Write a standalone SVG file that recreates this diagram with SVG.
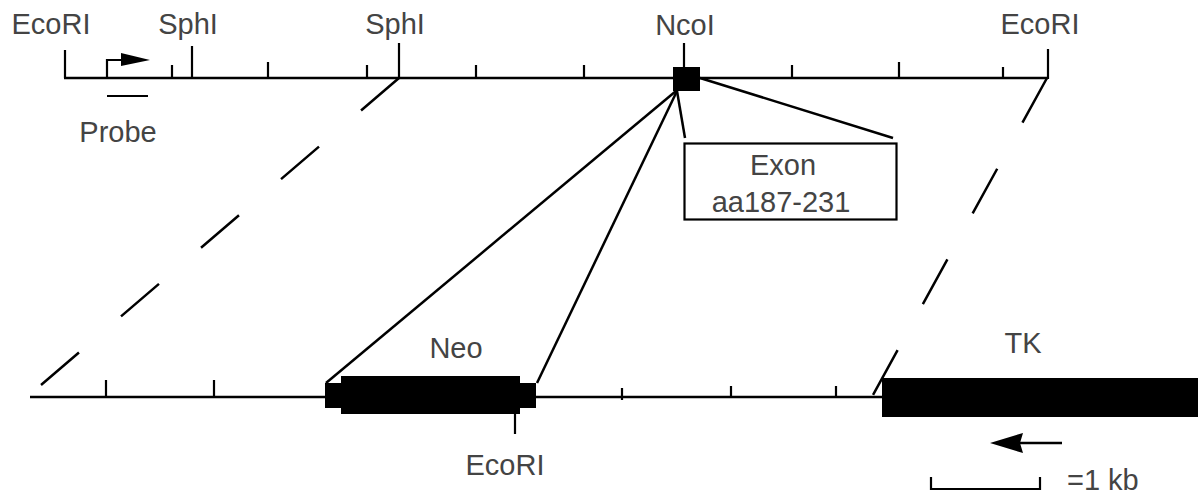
<svg xmlns="http://www.w3.org/2000/svg" width="1198" height="497" viewBox="0 0 1198 497">
<style>
  .ln { stroke: #000; stroke-width: 2.5; fill: none; stroke-linecap: butt; }
  .tk { stroke: #000; stroke-width: 2.2; fill: none; }
  .blk { fill: #000; stroke: none; }
  .txt { font-family: "Liberation Sans", Arial, sans-serif; font-size: 29px; fill: #444; }
  .mid { text-anchor: middle; }
</style>
<rect width="1198" height="497" fill="#fff"/>

<g id="wildtype-locus">
  <line class="ln" x1="64" y1="78" x2="1048" y2="78"/>
  <path class="tk" d="M65 50V78 M172 65V78 M192 46V78 M268 62V78 M367 65V78 M399 43V78 M476 65V78 M584 65V78 M684 43V67 M792 65V78 M899 62V78 M1003 67V78 M1048 49V79"/>
  <text class="txt mid" x="51" y="34">EcoRI</text>
  <text class="txt mid" x="188" y="34">SphI</text>
  <text class="txt mid" x="395" y="34">SphI</text>
  <text class="txt mid" x="685" y="35">NcoI</text>
  <text class="txt mid" x="1040" y="34">EcoRI</text>
</g>

<g id="promoter-arrow">
  <path class="tk" d="M107 78V60H124"/>
  <polygon class="blk" points="121,53 150,60 121,66"/>
</g>

<g id="probe">
  <line class="tk" x1="107" y1="96" x2="148" y2="96"/>
  <text class="txt mid" x="118" y="142">Probe</text>
</g>

<g id="ncoi-exon">
  <rect class="blk" x="673" y="67" width="27" height="24"/>
</g>

<g id="exon-box">
  <rect x="684.5" y="143.5" width="212" height="76" fill="#fff" stroke="#000" stroke-width="2.2"/>
  <text class="txt mid" x="783" y="175">Exon</text>
  <text class="txt mid" x="781" y="212">aa187-231</text>
</g>

<g id="targeting-vector">
  <line class="ln" x1="30" y1="397" x2="884" y2="397"/>
  <path class="tk" d="M106 380V397 M214 380V397 M515 414V434 M622 388V400 M731 386V397 M836 386V397"/>
  <text class="txt mid" x="505" y="475">EcoRI</text>
</g>

<g id="neo">
  <rect class="blk" x="325" y="383" width="211" height="25"/>
  <rect class="blk" x="341" y="376" width="179" height="38"/>
  <text class="txt mid" x="456" y="358">Neo</text>
</g>

<g id="tk">
  <rect class="blk" x="882" y="378" width="316" height="39"/>
  <text class="txt mid" x="1023" y="353">TK</text>
  <line class="ln" x1="1062" y1="443" x2="1018" y2="443"/>
  <polygon class="blk" points="990,443 1023,433 1020,443 1023,453"/>
</g>

<g id="scale-bar">
  <path class="tk" d="M931 477V489H1040V477"/>
  <text class="txt" x="1067" y="490">=1 kb</text>
</g>

<g id="connectors">
  <line class="ln" x1="399" y1="78" x2="41" y2="385" stroke-dasharray="50 55.4"/>
  <line class="ln" x1="1047" y1="78" x2="873" y2="395" stroke-dasharray="51 52.5"/>
  <line class="ln" x1="676" y1="91" x2="326" y2="383"/>
  <line class="ln" x1="677" y1="91" x2="537" y2="383"/>
  <line class="ln" x1="677" y1="91" x2="685" y2="138"/>
  <line class="ln" x1="700" y1="78" x2="893" y2="138"/>
</g>
</svg>
